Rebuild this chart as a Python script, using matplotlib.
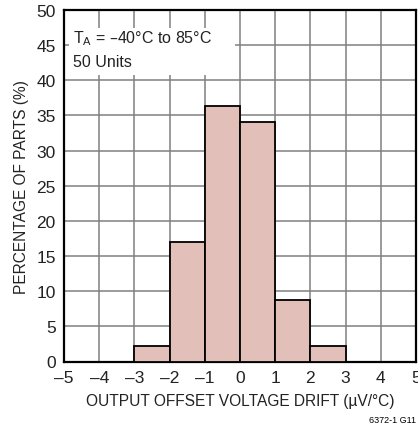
import matplotlib
matplotlib.use("Agg")
import matplotlib.pyplot as plt
from matplotlib.patches import Rectangle

# histogram data
bin_left = [-3, -2, -1, 0, 1, 2]
percent = [2.2, 17.0, 36.4, 34.1, 8.7, 2.2]
x_ticks = [-5, -4, -3, -2, -1, 0, 1, 2, 3, 4, 5]
y_ticks = [0, 5, 10, 15, 20, 25, 30, 35, 40, 45, 50]

plt.rcParams['font.family'] = ['Liberation Sans', 'DejaVu Sans']

fig = plt.figure(figsize=(4.18, 4.35), dpi=100)
ax = fig.add_axes([64/418, 1 - 362.5/435, 352/418, 351.5/435])

ax.set_xlim(-5, 5)
ax.set_ylim(0, 50)
ax.set_xticks(x_ticks)
ax.set_yticks(y_ticks)
ax.set_xticklabels([str(t).replace('-', '\u2013') for t in x_ticks])
ax.grid(True, color='#808080', lw=1.1)
ax.set_axisbelow(True)
ax.tick_params(length=0, labelsize=12.5, pad=6, colors='#222222')
for s in ax.spines.values():
    s.set_linewidth(1.6)
    s.set_color('black')

ax.bar(bin_left, percent, width=1, align='edge', color='#E2BFB8',
       edgecolor='black', lw=1.3, zorder=3)

# white box behind annotation
ax.add_patch(Rectangle((-4.85, 40.8), 4.7, 6.7, facecolor='white',
                       edgecolor='none', zorder=2.5))
ax.text(-4.75, 46, 'T$_\\mathregular{A}$ = \u201340\u00b0C to 85\u00b0C', fontsize=11.5,
        va='center', ha='left', zorder=4, color='#222222')
ax.text(-4.75, 42.7, '50 Units', fontsize=11.5, va='center', ha='left', zorder=4,
        color='#222222')

ax.set_xlabel('OUTPUT OFFSET VOLTAGE DRIFT (\u00b5V/\u00b0C)', fontsize=11.2, labelpad=6,
              color='#222222')
ax.set_ylabel('PERCENTAGE OF PARTS (%)', fontsize=11.2, labelpad=5, color='#222222')

fig.text(416/418, 1 - 421/435, '6372-1 G11', fontsize=6.5, ha='right', va='center')

fig.savefig('out.png', dpi=100)
